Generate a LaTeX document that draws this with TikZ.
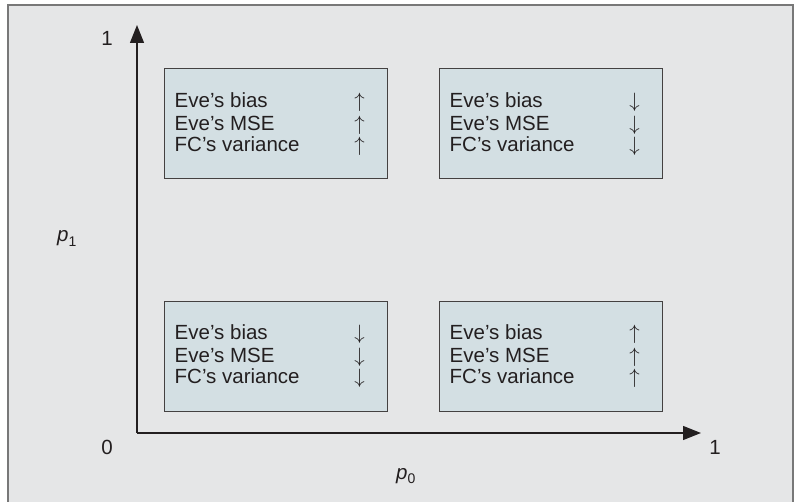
\documentclass[tikz,border=0pt]{standalone}
\usepackage{fontspec}
\setmainfont{Liberation Sans}
\usetikzlibrary{arrows.meta}
\definecolor{bgcol}{RGB}{229,230,231}
\definecolor{boxcol}{RGB}{211,223,227}
\definecolor{framecol}{RGB}{120,120,120}
\definecolor{inkcol}{RGB}{35,31,32}
\newcommand{\txtsize}{\fontsize{20.5pt}{24pt}\selectfont}
\tikzset{
  panel/.style={draw=inkcol!85, line width=1pt, fill=boxcol, minimum width=223pt, minimum height=110pt, inner sep=0pt},
  item/.style={anchor=base west, inner sep=0pt, text=inkcol, font=\txtsize},
  trend/.style={anchor=base, inner sep=0pt, text=inkcol, font=\fontsize{21pt}{24pt}\selectfont},
  axislbl/.style={inner sep=0pt, text=inkcol, font=\txtsize},
  axisline/.style={draw=inkcol, line width=1.4pt, -{Triangle[length=18pt,width=14pt]}}
}
\begin{document}
\begin{tikzpicture}[x=1pt,y=-1pt]
\useasboundingbox (0,0) rectangle (801,502);
\fill[bgcol] (8,5) rectangle (793,510);
\draw[framecol, line width=1.2pt] (8,510) -- (8,5) -- (793,5) -- (793,510);

\coordinate (O) at (137,433);
\coordinate (Ytip) at (137,25);
\coordinate (Xtip) at (701,433);
\draw[axisline] (O) -- (Ytip);
\draw[axisline] (O) -- (Xtip);

\node[axislbl] (one-y) at (107,38) {1};
\node[axislbl] (zero) at (107,447) {0};
\node[axislbl] (one-x) at (715,447) {1};
\node[axislbl, anchor=base west] (p1) at (57,242) {\textit{p}\raisebox{-5pt}{\fontsize{14pt}{14pt}\selectfont 1}};
\node[axislbl, anchor=base west] (p0) at (396,479) {\textit{p}\raisebox{-5pt}{\fontsize{14pt}{14pt}\selectfont 0}};

% panels
\node[panel] (TL) at (275.5,124) {};
\node[panel] (TR) at (550.5,124) {};
\node[panel] (BL) at (275.5,356.5) {};
\node[panel] (BR) at (550.5,356.5) {};

\foreach \b/\a in {TL/\uparrow, TR/\downarrow, BL/\downarrow, BR/\uparrow}{
  \node[item] (\b-l1) at ([xshift=11pt,yshift=-39pt]\b.north west) {Eve’s bias};
  \node[item] (\b-l2) at ([xshift=11pt,yshift=-62pt]\b.north west) {Eve’s MSE};
  \node[item] (\b-l3) at ([xshift=11pt,yshift=-83pt]\b.north west) {FC’s variance};
  \node[trend] (\b-a1) at ([xshift=-28pt,yshift=-39pt]\b.north east) {$\a$};
  \node[trend] (\b-a2) at ([xshift=-28pt,yshift=-62pt]\b.north east) {$\a$};
  \node[trend] (\b-a3) at ([xshift=-28pt,yshift=-83pt]\b.north east) {$\a$};
}
\end{tikzpicture}
\end{document}
